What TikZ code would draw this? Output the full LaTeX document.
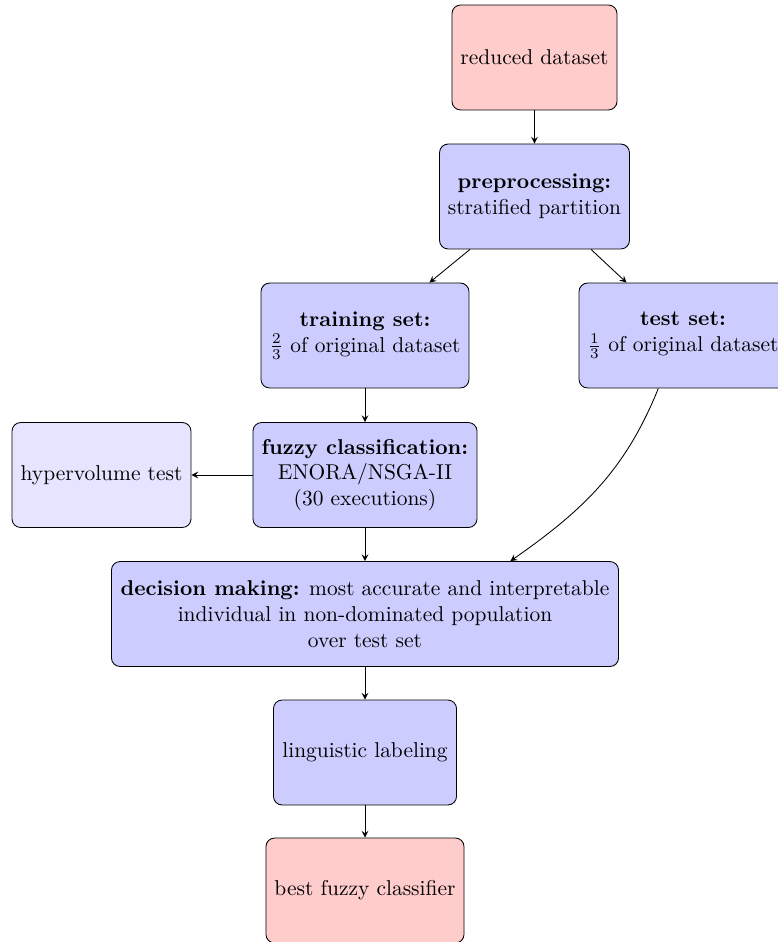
\documentclass[tikz,border=0pt]{standalone}
\usetikzlibrary{arrows}
\begin{document}
\begin{tikzpicture}[x=0.466pt,y=-0.466pt,>=stealth,
  box/.style={draw, rounded corners, align=center, minimum height=48.9pt, inner sep=3.3pt},
  redbox/.style={box, fill=red!20},
  bluebox/.style={box, fill=blue!20},
  lightbox/.style={box, fill=blue!10},
  link/.style={->}]
\useasboundingbox (0,0) rectangle (778,942);

% upper column
\node[redbox,  minimum width=76.9pt]  (raw)   at (534.5,57.5) {reduced dataset};
\node[bluebox, minimum width=88.5pt]  (prep)  at (534.5,196.5){\textbf{preprocessing:}\\stratified partition};
% the two partitions
\node[bluebox, minimum width=96.9pt]  (train) at (365,335.5)  {\textbf{training set:}\\$\frac{2}{3}$ of original dataset};
\node[bluebox, minimum width=96.9pt]  (test)  at (683,335.5)  {\textbf{test set:}\\$\frac{1}{3}$ of original dataset};
% main column
\node[bluebox, minimum width=104.4pt] (fuzzy) at (365,475)    {\textbf{fuzzy classification:}\\ENORA/NSGA-II\\(30 executions)};
\node[lightbox,minimum width=83.4pt]  (hyper) at (101.5,475)  {hypervolume test};
\node[bluebox, minimum width=236.3pt] (dec)   at (365,614)    {\textbf{decision making:} most accurate and interpretable\\individual in non-dominated population\\over test set};
\node[bluebox, minimum width=85.3pt]  (ling)  at (365,752.5)  {linguistic labeling};
\node[redbox,  minimum width=92.3pt]  (best)  at (365,890.5)  {best fuzzy classifier};

\draw[link] (raw) -- (prep);
\draw[link] (prep) -- (train);
\draw[link] (prep) -- (test);
\draw[link] (train) -- (fuzzy);
\draw[link] (fuzzy) -- (hyper);
\draw[link] (fuzzy) -- (dec);
\draw[link] (test.-115) to[out=-112, in=35] (dec.20);
\draw[link] (dec) -- (ling);
\draw[link] (ling) -- (best);
\end{tikzpicture}
\end{document}
